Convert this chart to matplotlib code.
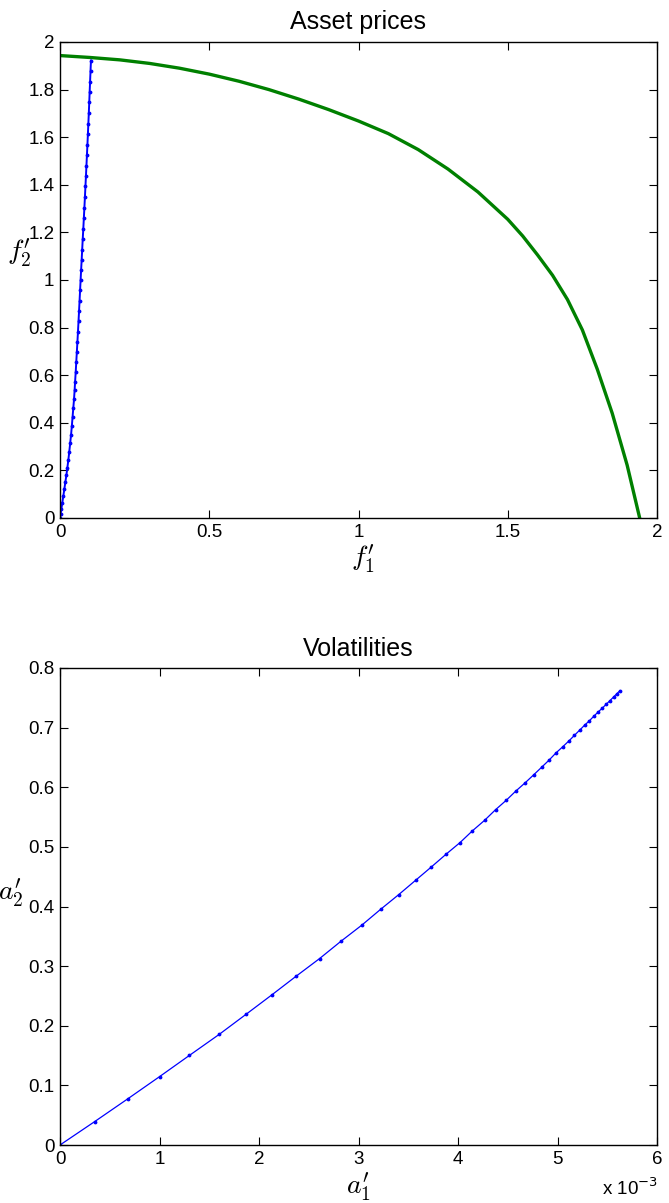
import matplotlib
matplotlib.use("Agg")
import matplotlib.pyplot as plt
from matplotlib.ticker import FuncFormatter, MultipleLocator

plt.rcParams['font.family'] = ['Liberation Sans', 'DejaVu Sans']
plt.rcParams['mathtext.fontset'] = 'cm'

# ---- Top panel: asset prices ----
green_f1 = [0.0, 0.1, 0.2, 0.3, 0.4, 0.5, 0.6, 0.7, 0.8, 0.9, 1.0, 1.1, 1.2, 1.3,
            1.4, 1.5, 1.55, 1.6, 1.65, 1.7, 1.75, 1.8, 1.85, 1.9, 1.942]
green_f2 = [1.943, 1.935, 1.925, 1.91, 1.89, 1.865, 1.835, 1.80, 1.76, 1.716, 1.668,
            1.615, 1.548, 1.466, 1.37, 1.255, 1.185, 1.105, 1.02, 0.918, 0.79, 0.625,
            0.44, 0.222, 0.0]

blue_f1 = [0.0, 0.002, 0.0047, 0.0078, 0.011, 0.0146, 0.018, 0.0214, 0.0247, 0.028,
           0.0311, 0.0341, 0.037, 0.0397, 0.042, 0.0445, 0.047, 0.049, 0.0506, 0.0527,
           0.0545, 0.0564, 0.0583, 0.0602, 0.062, 0.0638, 0.0655, 0.0673, 0.069, 0.0707,
           0.0725, 0.0743, 0.0761, 0.0781, 0.0799, 0.0817, 0.0835, 0.0852, 0.087, 0.0886,
           0.0903, 0.0919, 0.0935, 0.095, 0.0965, 0.098, 0.0993, 0.1008, 0.1022, 0.1037]
blue_f2 = [0.0, 0.017, 0.039, 0.065, 0.091, 0.122, 0.151, 0.180, 0.212, 0.244,
           0.279, 0.314, 0.349, 0.387, 0.423, 0.461, 0.499, 0.538, 0.573, 0.615,
           0.655, 0.697, 0.739, 0.782, 0.826, 0.869, 0.912, 0.957, 0.999, 1.041,
           1.083, 1.127, 1.171, 1.216, 1.260, 1.304, 1.348, 1.393, 1.438, 1.481,
           1.526, 1.569, 1.614, 1.657, 1.701, 1.746, 1.789, 1.834, 1.877, 1.922]

# ---- Bottom panel: volatilities (a1 in units of 1e-3) ----
a1 = [0.0, 0.348, 0.679, 1.000, 1.301, 1.599, 1.873, 2.130, 2.374, 2.609, 2.825,
      3.033, 3.224, 3.404, 3.575, 3.732, 3.883, 4.021, 4.143, 4.267, 4.377, 4.484,
      4.581, 4.675, 4.761, 4.842, 4.912, 4.986, 5.052, 5.116, 5.169, 5.223, 5.273,
      5.320, 5.363, 5.410, 5.450, 5.490, 5.528, 5.563, 5.596, 5.628]
a2 = [0.0, 0.0392, 0.0772, 0.1146, 0.1503, 0.1854, 0.2196, 0.2519, 0.2832, 0.3127,
      0.3419, 0.3687, 0.3955, 0.4199, 0.4441, 0.4663, 0.4881, 0.5073, 0.5266, 0.5445,
      0.5623, 0.5780, 0.5936, 0.6075, 0.6209, 0.6338, 0.6450, 0.6578, 0.6678, 0.6779,
      0.6869, 0.6958, 0.7042, 0.7114, 0.7188, 0.7265, 0.7327, 0.7392, 0.7454, 0.7513,
      0.7568, 0.7621]

W, H = 669, 1203
fig = plt.figure(figsize=(W / 100, H / 100), dpi=100)
ax1 = fig.add_axes([60 / W, 1 - 518 / H, 597 / W, 476 / H])
ax2 = fig.add_axes([60 / W, 1 - 1145 / H, 597 / W, 477 / H])

fmt = FuncFormatter(lambda v, p: '%g' % round(v, 6))

for ax in (ax1, ax2):
    ax.tick_params(direction='in', top=True, right=True, length=6, width=0.8,
                   labelsize=13.5, pad=4)
    for s in ax.spines.values():
        s.set_linewidth(1.0)
    ax.xaxis.set_major_formatter(fmt)
    ax.yaxis.set_major_formatter(fmt)

ax1.plot(green_f1, green_f2, color=(0, 0.5, 0), lw=2.4)
ax1.plot(blue_f1, blue_f2, color=(0, 0, 1), lw=1.4, marker='.', ms=3.5)
ax1.set_xlim(0, 2)
ax1.set_ylim(0, 2)
ax1.xaxis.set_major_locator(MultipleLocator(0.5))
ax1.yaxis.set_major_locator(MultipleLocator(0.2))
ax1.set_title('Asset prices', fontsize=18, pad=9)
ax1.set_xlabel(r"$f_1'$", fontsize=20, va='center')
ax1.xaxis.set_label_coords(0.508, -0.088)
ax1.set_ylabel(r"$f_2'$", fontsize=20, rotation=0, va='center', ha='center')
ax1.yaxis.set_label_coords(-0.068, 0.555)

ax2.plot(a1, a2, color=(0, 0, 1), lw=0.9, marker='.', ms=3.5)
ax2.set_xlim(0, 6)
ax2.set_ylim(0, 0.8)
ax2.xaxis.set_major_locator(MultipleLocator(1))
ax2.yaxis.set_major_locator(MultipleLocator(0.1))
ax2.set_title('Volatilities', fontsize=18, pad=9)
ax2.set_xlabel(r"$a_1'$", fontsize=20, va='center')
ax2.xaxis.set_label_coords(0.5, -0.088)
ax2.set_ylabel(r"$a_2'$", fontsize=20, rotation=0, va='center', ha='center')
ax2.yaxis.set_label_coords(-0.082, 0.528)
fig.text(630 / W, 1 - 1188 / H, r'x 10$^{-3}$', fontsize=13.5, ha='center',
         va='center', math_fontfamily='dejavusans')

fig.savefig('out.png', dpi=100)
